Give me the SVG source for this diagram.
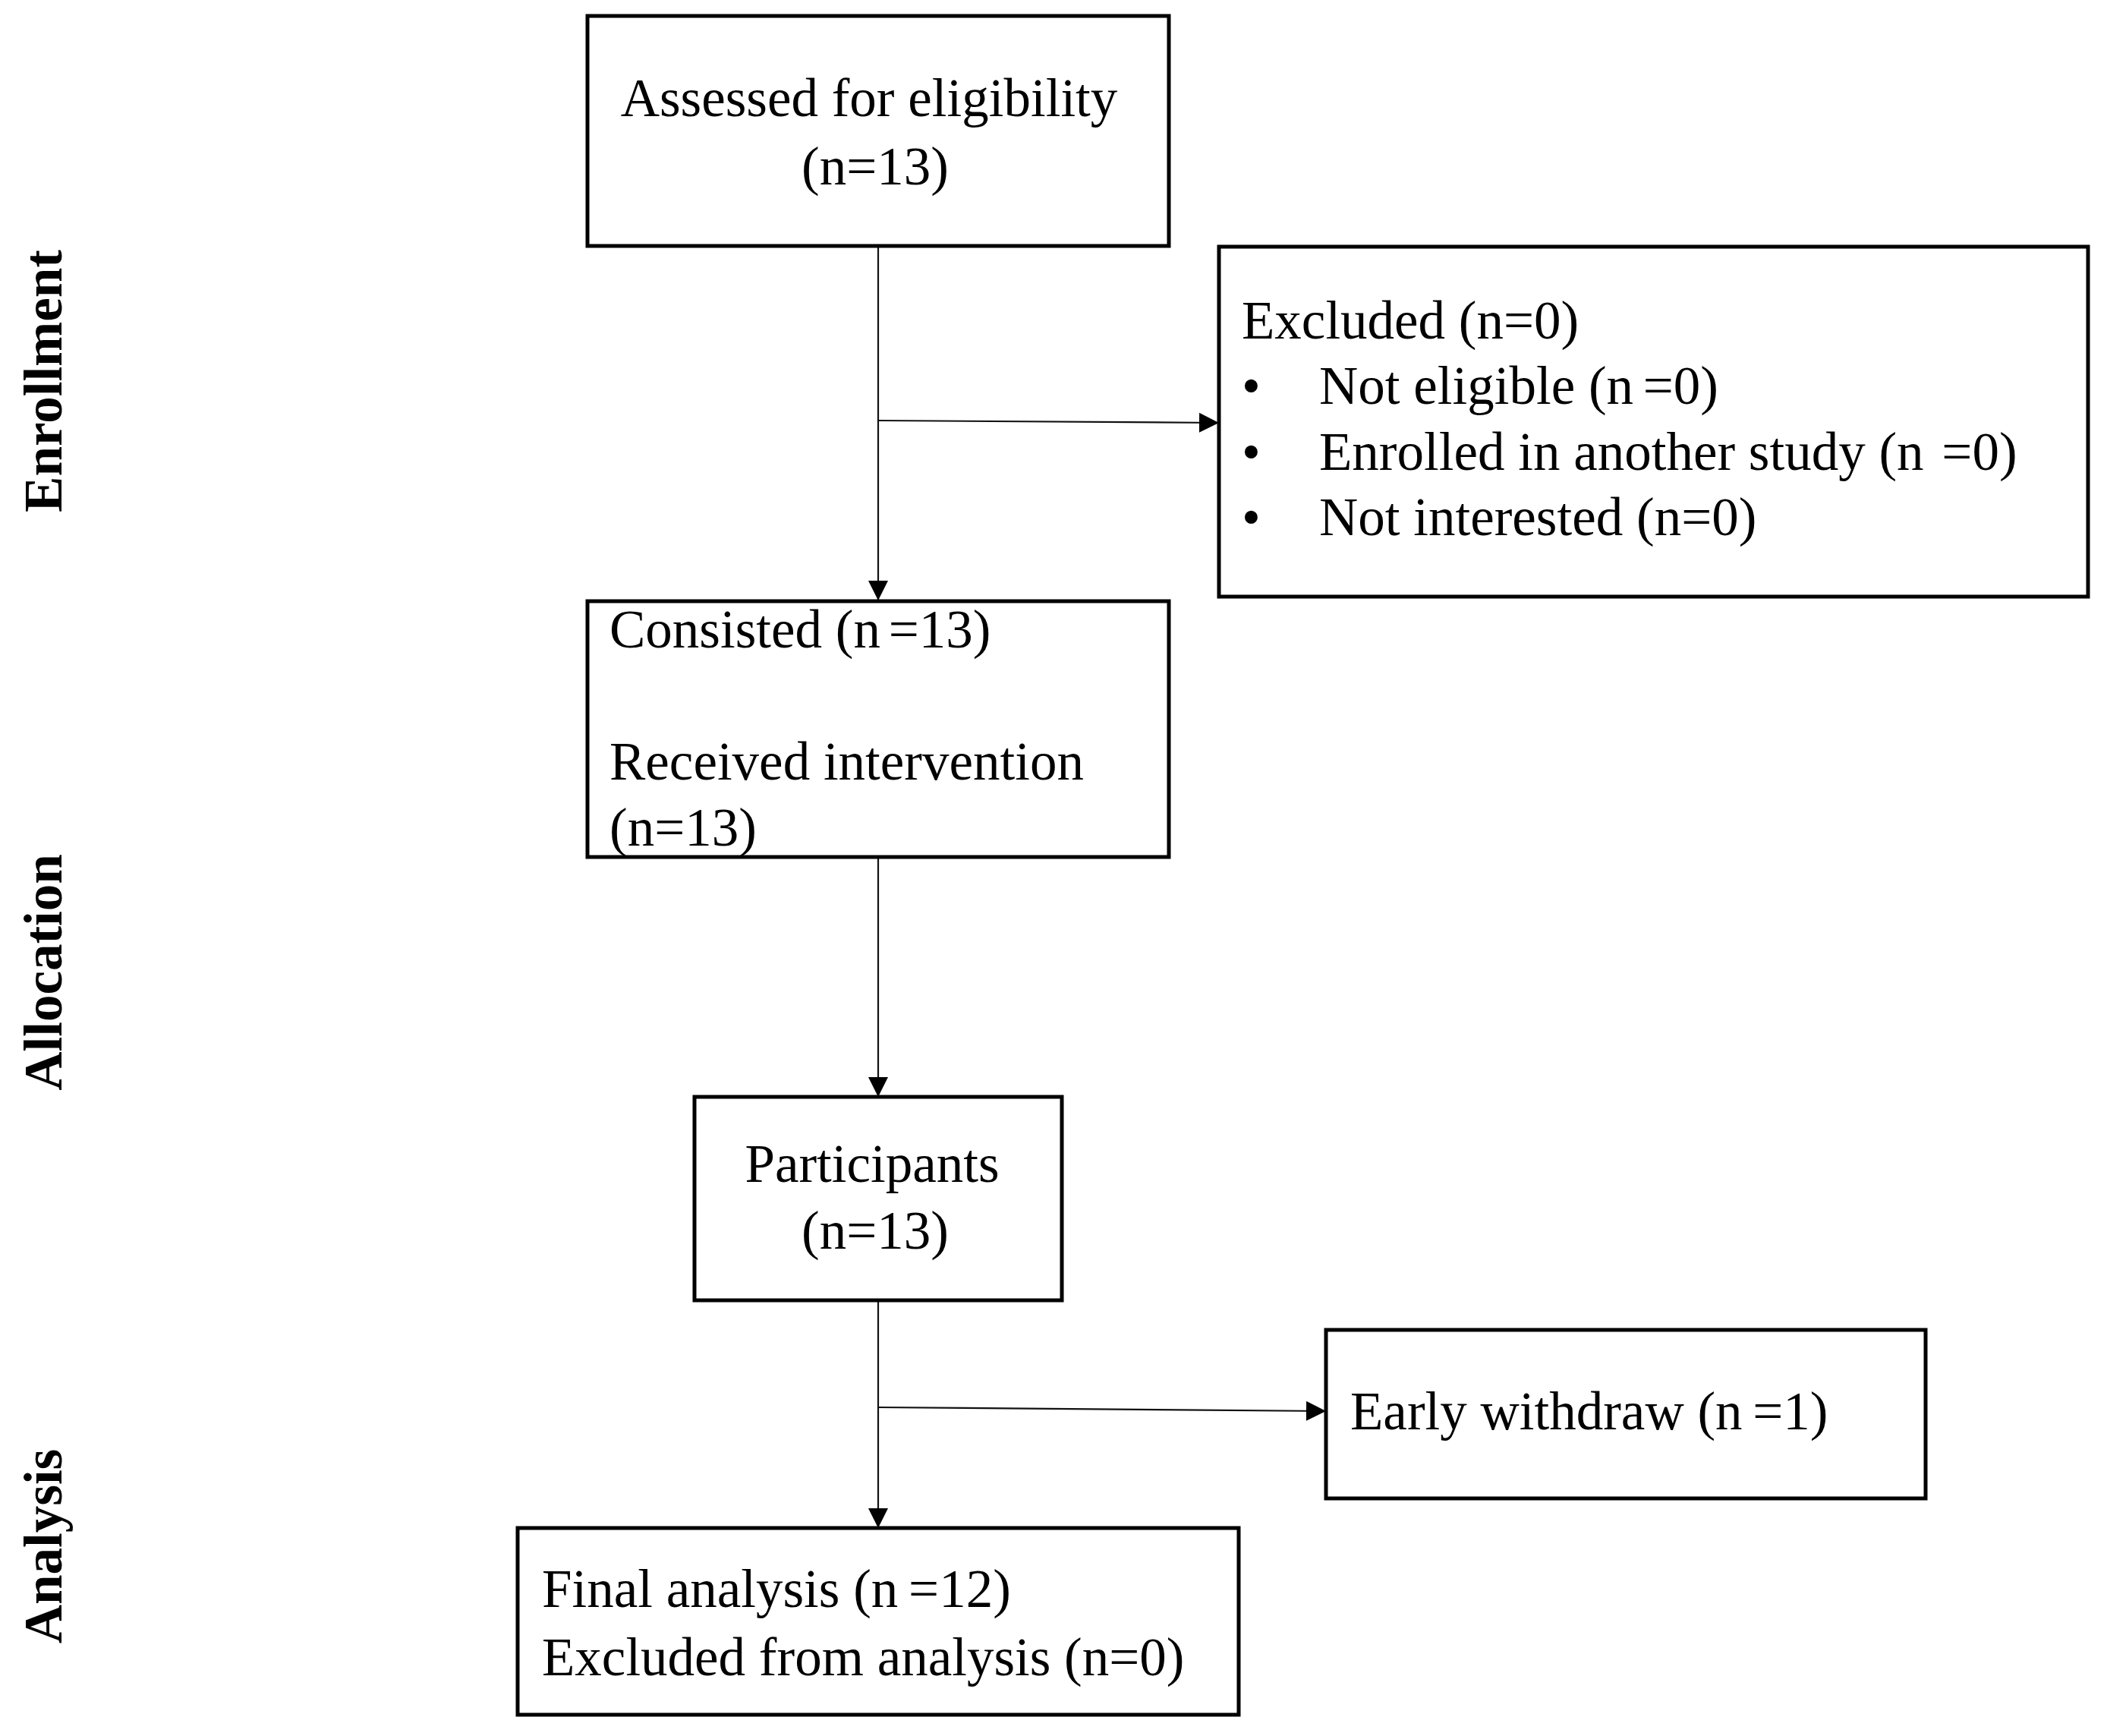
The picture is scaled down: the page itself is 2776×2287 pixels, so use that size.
<svg xmlns="http://www.w3.org/2000/svg" width="2776" height="2287" viewBox="0 0 2776 2287">
<style>
.box{fill:#fff;stroke:#000;stroke-width:5}
.t{font-family:"Liberation Serif","Times New Roman",serif;font-size:71px;fill:#000}
.side{font-family:"Liberation Serif","Times New Roman",serif;font-size:71px;font-weight:bold;fill:#000}
.c{stroke:#111;stroke-width:2.2;fill:none}
</style>
<defs>
<marker id="ah" markerUnits="userSpaceOnUse" markerWidth="26" markerHeight="26" refX="26" refY="13" orient="auto">
<path d="M0,0 L26,13 L0,26 z" fill="#000"/>
</marker>
</defs>
<rect width="2776" height="2287" fill="#fff"/>
<g id="labels">
<text class="side" transform="translate(81,502) rotate(-90)" text-anchor="middle">Enrollment</text>
<text class="side" transform="translate(81,1281) rotate(-90)" text-anchor="middle">Allocation</text>
<text class="side" transform="translate(81,2037) rotate(-90)" text-anchor="middle">Analysis</text>
</g>
<g id="connectors">
<line class="c" x1="1157" y1="324" x2="1157" y2="791" marker-end="url(#ah)"/>
<line class="c" x1="1157" y1="554" x2="1606" y2="557" marker-end="url(#ah)"/>
<line class="c" x1="1157" y1="1130" x2="1157" y2="1445" marker-end="url(#ah)"/>
<line class="c" x1="1157" y1="1713" x2="1157" y2="2013" marker-end="url(#ah)"/>
<line class="c" x1="1157" y1="1854" x2="1747" y2="1859" marker-end="url(#ah)"/>
</g>
<g id="assessed">
<rect class="box" x="774" y="21" width="766" height="303"/>
<text class="t" x="1145" y="153" text-anchor="middle">Assessed for eligibility</text>
<text class="t" x="1153" y="243" text-anchor="middle">(n=13)</text>
</g>
<g id="excluded">
<rect class="box" x="1606" y="325" width="1145" height="461"/>
<text class="t" x="1636" y="446">Excluded (n=0)</text>
<text class="t" x="1636" y="532">•</text>
<text class="t" x="1738" y="532">Not eligible (n <tspan dx="-5">=0)</tspan></text>
<text class="t" x="1636" y="619">•</text>
<text class="t" x="1738" y="619">Enrolled in another study (n <tspan dx="6">=0)</tspan></text>
<text class="t" x="1636" y="705">•</text>
<text class="t" x="1738" y="705">Not interested (n=0)</text>
</g>
<g id="consisted">
<rect class="box" x="774" y="792" width="766" height="337"/>
<text class="t" x="803" y="853">Consisted (n <tspan dx="-7">=13)</tspan></text>
<text class="t" x="803" y="1027">Received intervention</text>
<text class="t" x="803" y="1114">(n=13)</text>
</g>
<g id="participants">
<rect class="box" x="915" y="1445" width="484" height="268"/>
<text class="t" x="1149" y="1557" text-anchor="middle">Participants</text>
<text class="t" x="1153" y="1645" text-anchor="middle">(n=13)</text>
</g>
<g id="withdraw">
<rect class="box" x="1747" y="1752" width="790" height="222"/>
<text class="t" x="1779" y="1883">Early withdraw (n <tspan dx="-4">=1)</tspan></text>
</g>
<g id="final">
<rect class="box" x="682" y="2013" width="950" height="246"/>
<text class="t" x="714" y="2117">Final analysis (n <tspan dx="-4">=12)</tspan></text>
<text class="t" x="714" y="2207">Excluded from analysis (n=0)</text>
</g>
</svg>
